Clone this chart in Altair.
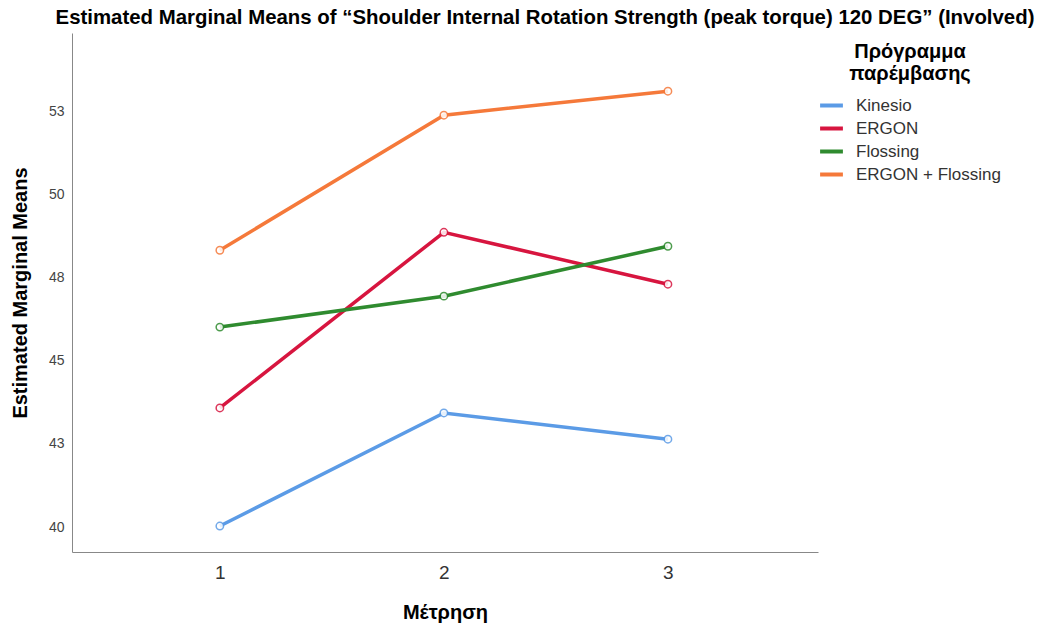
import altair as alt
import pandas as pd

measurement = [1, 2, 3]
groups = ["Kinesio", "ERGON", "Flossing", "ERGON + Flossing"]
kinesio = [40.03, 43.43, 42.64]
ergon = [43.58, 48.86, 47.30]
flossing = [46.01, 46.94, 48.44]
ergon_flossing = [48.32, 52.38, 53.10]
colors = ["#5B9BE6", "#D7153F", "#2F8B2F", "#F5793A"]
y_ticks = [40, 42.5, 45, 47.5, 50, 52.5]

series = [kinesio, ergon, flossing, ergon_flossing]
rows = []
for g, vals in zip(groups, series):
    for m, v in zip(measurement, vals):
        rows.append({"Μέτρηση": m, "Πρόγραμμα": g, "Mean": v})
df = pd.DataFrame(rows)

FONT = "Liberation Sans"

color = alt.Color(
    "Πρόγραμμα:N",
    scale=alt.Scale(domain=groups, range=colors),
    legend=alt.Legend(
        title=["Πρόγραμμα", "παρέμβασης"],
        orient="none",
        legendX=746,
        legendY=9,
        symbolType="stroke",
        symbolSize=520,
        symbolStrokeWidth=4,
        titleAnchor="middle",
        titleAlign="center",
        titleFontSize=20,
        titleFont=FONT,
        titleFontWeight="bold",
        titleColor="#000",
        titleLineHeight=22,
        titlePadding=8,
        labelFont=FONT,
        labelFontSize=17,
        labelColor="#333",
        labelOffset=11,
        rowPadding=1,
        symbolOffset=0,
    ),
)

x = alt.X(
    "Μέτρηση:Q",
    scale=alt.Scale(domain=[0.34, 3.67], nice=False, zero=False),
    axis=alt.Axis(
        values=measurement, format="d", grid=False, ticks=False,
        domainColor="#888", labelFontSize=19, labelFont=FONT, labelColor="#333",
        labelPadding=11, title="Μέτρηση", titleFont=FONT, titleFontSize=20,
        titleFontWeight="bold", titleColor="#000", titlePadding=20,
    ),
)
y = alt.Y(
    "Mean:Q",
    scale=alt.Scale(domain=[39.25, 54.85], nice=False, zero=False),
    axis=alt.Axis(
        values=y_ticks, format=".0f", grid=False, ticks=False,
        domainColor="#888", labelFontSize=14, labelFont=FONT, labelColor="#444",
        labelPadding=8, title="Estimated Marginal Means", titleFont=FONT,
        titleFontSize=20, titleFontWeight="bold", titleColor="#000", titlePadding=18,
    ),
)

lines = alt.Chart(df).mark_line(strokeWidth=3.5).encode(x=x, y=y, color=color)
points = alt.Chart(df).mark_point(
    filled=False, fill="white", size=55, strokeWidth=1.5, opacity=0.85
).encode(x=x, y=y, color=alt.Color("Πρόγραμμα:N", scale=alt.Scale(domain=groups, range=colors), legend=None))

chart = (
    alt.layer(lines, points)
    .properties(
        width=746,
        height=519,
        background="white",
        autosize=alt.AutoSizeParams(type="none"),
        padding={"left": 72, "top": 33, "right": 220, "bottom": 76},
        title=alt.TitleParams(
            "Estimated Marginal Means of “Shoulder Internal Rotation Strength (peak torque) 120 DEG” (Involved)",
            font=FONT, fontSize=20.4, fontWeight="bold", color="#000",
            anchor="middle", dx=100, offset=5,
        ),
    )
    .configure_view(strokeWidth=0, stroke=None)
)

chart.save("out.html", embed_options={"renderer": "svg", "actions": False})
